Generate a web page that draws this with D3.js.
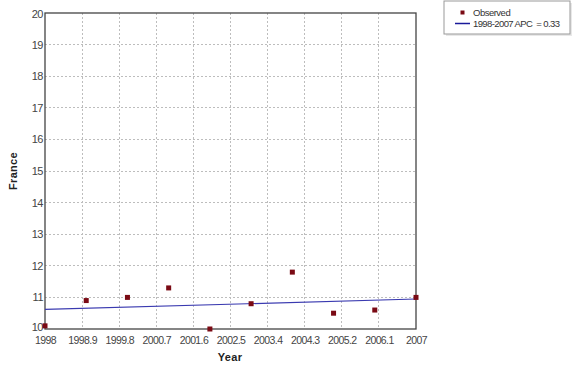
<!DOCTYPE html>
<html>
<head>
<meta charset="utf-8">
<script src="https://cdn.jsdelivr.net/npm/d3@7"></script>
<style>
  html, body { margin: 0; padding: 0; background: #fff; }
  svg { display: block; }
  text { font-family: "Liberation Sans", Arial, sans-serif; }
</style>
</head>
<body>
<svg id="chart" width="575" height="367"></svg>
<script>
// ---- data ----
const years = [1998, 1999, 2000, 2001, 2002, 2003, 2004, 2005, 2006, 2007];
const observed = [10.1, 10.9, 11.0, 11.3, 10.0, 10.8, 11.8, 10.5, 10.6, 11.0];
const fitYears = [1998, 2007];
const fitValues = [10.62, 10.95];
const xTicks = [1998, 1998.9, 1999.8, 2000.7, 2001.6, 2002.5, 2003.4, 2004.3, 2005.2, 2006.1, 2007];
const yTicks = [10, 11, 12, 13, 14, 15, 16, 17, 18, 19, 20];
const legendLabels = ["Observed", "1998-2007 APC  = 0.33"];
const xTitle = "Year";
const yTitle = "France";

// ---- layout ----
const svg = d3.select("#chart");
const L = 45, R = 416, T = 13, B = 329;

const x = d3.scaleLinear().domain([1998, 2007]).range([L, R]);
const y = d3.scaleLinear().domain([10, 20]).range([B, T]);

// grid
const grid = svg.append("g");
grid.selectAll("line.gx").data(xTicks.slice(1, -1)).enter().append("line")
  .attr("x1", d => x(d)).attr("x2", d => x(d)).attr("y1", T).attr("y2", B)
  .attr("stroke", "#bdbdbd").attr("stroke-width", 1).attr("stroke-dasharray", "2,2")
  .attr("shape-rendering", "crispEdges");
grid.selectAll("line.gy").data(yTicks.slice(1, -1)).enter().append("line")
  .attr("y1", d => y(d)).attr("y2", d => y(d)).attr("x1", L).attr("x2", R)
  .attr("stroke", "#bdbdbd").attr("stroke-width", 1).attr("stroke-dasharray", "2,2")
  .attr("shape-rendering", "crispEdges");

// axes (labels only, via d3 axes)
const xAxis = d3.axisBottom(x).tickValues(xTicks).tickSize(0).tickPadding(8)
  .tickFormat(d => String(+d.toFixed(1)));
const gx = svg.append("g").attr("transform", `translate(0,${B})`).call(xAxis);
gx.select(".domain").remove();
gx.selectAll("text").attr("fill", "#444").style("font-size", "10.5px").style("letter-spacing", "-0.6px")
  .attr("dy", "0.71em");

const yAxis = d3.axisLeft(y).tickValues(yTicks).tickSize(0).tickPadding(2)
  .tickFormat(d3.format("d"));
const gy = svg.append("g").attr("transform", `translate(${L},0)`).call(yAxis);
gy.select(".domain").remove();
gy.selectAll("text").attr("fill", "#444").style("font-size", "11px").style("letter-spacing", "-0.5px");
gy.selectAll(".tick").filter(d => d === 10).select("text").attr("dy", "0.1em");
gy.selectAll(".tick").filter(d => d === 20).select("text").attr("dy", "0.45em");

// frame
svg.append("rect").attr("x", L).attr("y", T).attr("width", R - L).attr("height", B - T)
  .attr("fill", "none").attr("stroke", "#444").attr("stroke-width", 1.3);

// fit line
const line = d3.line().x(d => x(d[0])).y(d => y(d[1]));
svg.append("path").datum(fitYears.map((yr, i) => [yr, fitValues[i]]))
  .attr("d", line).attr("fill", "none").attr("stroke", "#3a3ab0").attr("stroke-width", 1.2);

// observed points
svg.selectAll("rect.pt").data(years).enter().append("rect")
  .attr("x", (d) => x(d) - 2.5).attr("y", (d, i) => y(observed[i]) - 2.5)
  .attr("width", 5).attr("height", 5).attr("fill", "#7a0a14");

// axis titles
svg.append("text").attr("x", 230).attr("y", 361).attr("text-anchor", "middle")
  .style("font-size", "11px").style("font-weight", "bold").style("letter-spacing", "0.3px")
  .attr("fill", "#222").text(xTitle);
svg.append("text").attr("transform", "translate(17,171) rotate(-90)").attr("text-anchor", "middle")
  .style("font-size", "11px").style("font-weight", "bold").style("letter-spacing", "0.3px")
  .attr("fill", "#222").text(yTitle);

// legend
const lg = svg.append("g");
lg.append("rect").attr("x", 446).attr("y", 3).attr("width", 126).attr("height", 33)
  .attr("fill", "#e8e8e8");
lg.append("rect").attr("x", 444).attr("y", 1).attr("width", 126).attr("height", 33)
  .attr("fill", "#fff").attr("stroke", "#999").attr("stroke-width", 1);
lg.append("rect").attr("x", 460.5).attr("y", 10.5).attr("width", 4).attr("height", 4).attr("fill", "#7a0a14");
lg.append("line").attr("x1", 455).attr("x2", 470).attr("y1", 23.5).attr("y2", 23.5)
  .attr("stroke", "#1a1a9a").attr("stroke-width", 1.5);
lg.append("text").attr("x", 473).attr("y", 15.5).style("font-size", "9.5px").style("letter-spacing", "-0.5px")
  .attr("fill", "#333").text(legendLabels[0]);
lg.append("text").attr("x", 473).attr("y", 27).style("font-size", "9.5px").style("letter-spacing", "-0.6px")
  .style("white-space", "pre").attr("fill", "#333").text(legendLabels[1]);
</script>
</body>
</html>
